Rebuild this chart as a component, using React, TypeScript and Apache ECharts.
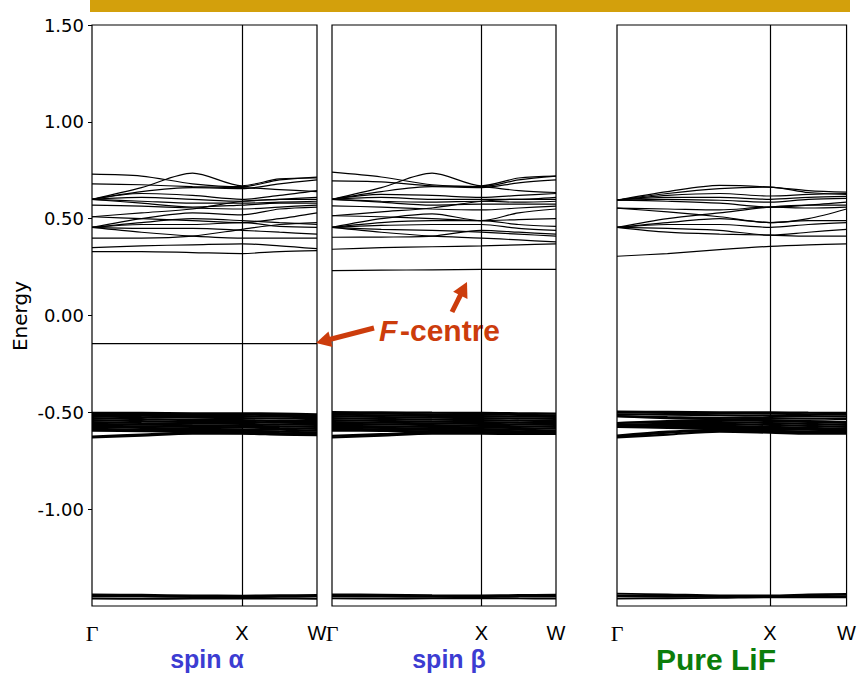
import React, { useEffect, useRef } from "react";
import * as echarts from "echarts";

// k-path sample points: Γ (0) → X (1) → W (1.5)
const K_POINTS = [0, 0.33, 0.67, 1.0, 1.25, 1.5];
const K_LABELS: Record<string, string> = { "0": "Γ", "1": "X", "1.5": "W" };
const Y_TICKS_FMT = (v: number) => v.toFixed(2);

// ---------- spin α ----------
const ALPHA_CONDUCTION = [
  [0.73, 0.72, 0.68, 0.665, 0.7, 0.715],
  [0.6, 0.66, 0.735, 0.67, 0.705, 0.71],
  [0.68, 0.675, 0.665, 0.66, 0.65, 0.64],
  [0.6, 0.64, 0.66, 0.655, 0.68, 0.7],
  [0.6, 0.63, 0.62, 0.6, 0.62, 0.645],
  [0.6, 0.61, 0.6, 0.59, 0.6, 0.6],
  [0.6, 0.59, 0.58, 0.58, 0.585, 0.59],
  [0.6, 0.58, 0.56, 0.57, 0.58, 0.58],
  [0.57, 0.565, 0.555, 0.55, 0.56, 0.57],
  [0.51, 0.53, 0.55, 0.59, 0.6, 0.61],
  [0.51, 0.5, 0.49, 0.48, 0.5, 0.53],
  [0.455, 0.5, 0.53, 0.52, 0.55, 0.56],
  [0.455, 0.48, 0.5, 0.49, 0.48, 0.47],
  [0.455, 0.47, 0.47, 0.48, 0.46, 0.455],
  [0.455, 0.45, 0.45, 0.44, 0.43, 0.42],
  [0.455, 0.43, 0.41, 0.4, 0.4, 0.4],
  [0.4, 0.4, 0.41, 0.445, 0.47, 0.48],
  [0.35, 0.36, 0.365, 0.37, 0.36, 0.345],
  [0.33, 0.33, 0.325, 0.32, 0.33, 0.335],
];
const ALPHA_DEFECT = [-0.145, -0.145, -0.145, -0.145, -0.145, -0.145];
const ALPHA_VALENCE = [
  [-0.503, -0.503, -0.505, -0.505, -0.507, -0.51],
  [-0.508, -0.51, -0.512, -0.512, -0.514, -0.516],
  [-0.515, -0.517, -0.52, -0.52, -0.522, -0.525],
  [-0.52, -0.525, -0.528, -0.53, -0.532, -0.535],
  [-0.53, -0.535, -0.54, -0.54, -0.545, -0.545],
  [-0.54, -0.545, -0.55, -0.55, -0.553, -0.555],
  [-0.55, -0.555, -0.558, -0.56, -0.563, -0.565],
  [-0.56, -0.563, -0.567, -0.57, -0.573, -0.575],
  [-0.57, -0.572, -0.575, -0.578, -0.582, -0.585],
  [-0.575, -0.58, -0.585, -0.588, -0.59, -0.595],
  [-0.585, -0.59, -0.592, -0.595, -0.6, -0.603],
  [-0.595, -0.597, -0.6, -0.602, -0.607, -0.61],
  [-0.625, -0.615, -0.605, -0.607, -0.612, -0.615],
  [-0.63, -0.62, -0.61, -0.61, -0.615, -0.618],
];
const ALPHA_CORE = [
  [-1.44, -1.442, -1.445, -1.446, -1.444, -1.443],
  [-1.446, -1.448, -1.45, -1.45, -1.449, -1.448],
  [-1.451, -1.452, -1.454, -1.454, -1.453, -1.452],
  [-1.462, -1.463, -1.462, -1.461, -1.462, -1.463],
];

// ---------- spin β ----------
const BETA_CONDUCTION = [
  [0.74, 0.715, 0.675, 0.665, 0.7, 0.72],
  [0.6, 0.66, 0.735, 0.67, 0.71, 0.72],
  [0.695, 0.69, 0.67, 0.665, 0.645, 0.635],
  [0.6, 0.64, 0.665, 0.66, 0.685, 0.7],
  [0.6, 0.625, 0.62, 0.61, 0.62, 0.63],
  [0.6, 0.61, 0.6, 0.6, 0.6, 0.61],
  [0.6, 0.59, 0.585, 0.59, 0.585, 0.59],
  [0.6, 0.585, 0.57, 0.575, 0.575, 0.575],
  [0.566, 0.56, 0.55, 0.545, 0.555, 0.565],
  [0.515, 0.535, 0.555, 0.59, 0.6, 0.6],
  [0.515, 0.51, 0.5, 0.49, 0.495, 0.5],
  [0.455, 0.5, 0.525, 0.49, 0.53, 0.55],
  [0.455, 0.48, 0.49, 0.49, 0.47, 0.46],
  [0.455, 0.465, 0.47, 0.47, 0.45, 0.44],
  [0.455, 0.445, 0.44, 0.43, 0.42, 0.41],
  [0.455, 0.43, 0.41, 0.4, 0.39, 0.38],
  [0.404, 0.405, 0.41, 0.44, 0.43, 0.42],
  [0.342, 0.35, 0.355, 0.36, 0.365, 0.37],
];
const BETA_DEFECT = [0.232, 0.234, 0.236, 0.238, 0.238, 0.238];
const BETA_VALENCE = [
  [-0.499, -0.5, -0.502, -0.503, -0.505, -0.507],
  [-0.505, -0.507, -0.51, -0.511, -0.513, -0.515],
  [-0.512, -0.515, -0.518, -0.52, -0.522, -0.524],
  [-0.52, -0.524, -0.527, -0.53, -0.532, -0.534],
  [-0.53, -0.534, -0.538, -0.54, -0.543, -0.545],
  [-0.54, -0.544, -0.548, -0.55, -0.553, -0.555],
  [-0.55, -0.553, -0.557, -0.56, -0.562, -0.565],
  [-0.56, -0.562, -0.566, -0.57, -0.572, -0.575],
  [-0.57, -0.572, -0.575, -0.578, -0.581, -0.584],
  [-0.576, -0.58, -0.584, -0.587, -0.59, -0.594],
  [-0.585, -0.588, -0.591, -0.594, -0.598, -0.602],
  [-0.594, -0.596, -0.599, -0.602, -0.605, -0.608],
  [-0.622, -0.613, -0.604, -0.606, -0.609, -0.61],
  [-0.63, -0.62, -0.61, -0.61, -0.612, -0.612],
];
const BETA_CORE = [
  [-1.44, -1.441, -1.444, -1.445, -1.443, -1.442],
  [-1.445, -1.447, -1.449, -1.45, -1.448, -1.447],
  [-1.45, -1.452, -1.453, -1.454, -1.452, -1.451],
  [-1.461, -1.462, -1.461, -1.46, -1.461, -1.462],
];

// ---------- pure LiF ----------
const LIF_CONDUCTION = [
  [0.596, 0.64, 0.672, 0.663, 0.645, 0.637],
  [0.596, 0.63, 0.655, 0.663, 0.635, 0.625],
  [0.596, 0.62, 0.63, 0.617, 0.625, 0.63],
  [0.596, 0.61, 0.61, 0.6, 0.61, 0.615],
  [0.596, 0.6, 0.595, 0.585, 0.6, 0.605],
  [0.596, 0.59, 0.58, 0.56, 0.57, 0.585],
  [0.554, 0.535, 0.51, 0.48, 0.5, 0.55],
  [0.554, 0.55, 0.545, 0.56, 0.555, 0.56],
  [0.455, 0.5, 0.53, 0.56, 0.57, 0.57],
  [0.455, 0.48, 0.5, 0.48, 0.49, 0.49],
  [0.455, 0.47, 0.47, 0.455, 0.47, 0.48],
  [0.455, 0.45, 0.44, 0.415, 0.43, 0.445],
  [0.455, 0.43, 0.42, 0.415, 0.41, 0.41],
  [0.306, 0.32, 0.34, 0.357, 0.365, 0.37],
];
const LIF_VALENCE = [
  [-0.496, -0.498, -0.5, -0.5, -0.502, -0.503],
  [-0.5, -0.503, -0.505, -0.507, -0.51, -0.512],
  [-0.51, -0.512, -0.515, -0.518, -0.52, -0.522],
  [-0.52, -0.525, -0.528, -0.53, -0.532, -0.535],
  [-0.52, -0.53, -0.535, -0.54, -0.545, -0.55],
  [-0.555, -0.545, -0.54, -0.545, -0.55, -0.555],
  [-0.555, -0.55, -0.55, -0.555, -0.56, -0.565],
  [-0.565, -0.56, -0.56, -0.565, -0.57, -0.575],
  [-0.565, -0.57, -0.57, -0.575, -0.58, -0.585],
  [-0.57, -0.575, -0.58, -0.58, -0.585, -0.59],
  [-0.575, -0.58, -0.585, -0.59, -0.59, -0.595],
  [-0.62, -0.6, -0.59, -0.595, -0.6, -0.6],
  [-0.625, -0.605, -0.595, -0.6, -0.605, -0.605],
  [-0.63, -0.615, -0.6, -0.605, -0.61, -0.61],
];
const LIF_CORE = [
  [-1.436, -1.44, -1.445, -1.445, -1.44, -1.437],
  [-1.445, -1.447, -1.45, -1.45, -1.445, -1.443],
  [-1.45, -1.452, -1.452, -1.45, -1.45, -1.45],
  [-1.462, -1.46, -1.458, -1.455, -1.455, -1.455],
];

const PANEL_TITLES = ["spin α", "spin β", "Pure LiF"];

const GRIDS = [
  { left: 92, top: 25, width: 225, height: 581 },
  { left: 332, top: 25, width: 224, height: 581 },
  { left: 617, top: 25, width: 232, height: 581 },
];

const ORANGE = "#cc3c0c";

function bandSeries(bands: number[][], idx: number, withMark: boolean, width: number) {
  return bands.map((b, j) => {
    const s: any = {
      type: "line",
      xAxisIndex: idx,
      yAxisIndex: idx,
      data: K_POINTS.map((k, i) => [k, b[i]]),
      symbol: "none",
      smooth: 0.3,
      silent: true,
      lineStyle: { color: "#000", width },
    };
    if (withMark && j === 0) {
      s.markLine = {
        silent: true,
        symbol: ["none", "none"],
        label: { show: false },
        lineStyle: { color: "#000", width: 1.2, type: "solid" },
        data: [{ xAxis: 1 }],
      };
    }
    return s;
  });
}

function arrow(tail: number[], tip: number[], color: string) {
  const dx = tip[0] - tail[0];
  const dy = tip[1] - tail[1];
  const len = Math.sqrt(dx * dx + dy * dy);
  const ux = dx / len;
  const uy = dy / len;
  const hl = 15;
  const hw = 8;
  const bx = tip[0] - ux * hl;
  const by = tip[1] - uy * hl;
  return [
    {
      type: "line",
      shape: { x1: tail[0], y1: tail[1], x2: bx + ux * 2, y2: by + uy * 2 },
      style: { stroke: color, lineWidth: 5 },
      silent: true,
    },
    {
      type: "polygon",
      shape: {
        points: [
          [tip[0], tip[1]],
          [bx - uy * hw, by + ux * hw],
          [bx + uy * hw, by - ux * hw],
        ],
      },
      style: { fill: color },
      silent: true,
    },
  ];
}

export default function App() {
  const ref = useRef<HTMLDivElement>(null);
  useEffect(() => {
    if (!ref.current) return;
    const chart = echarts.init(ref.current, null, { renderer: "svg" });

    const xAxes = GRIDS.map((_, i) => ({
      type: "value",
      gridIndex: i,
      min: 0,
      max: 1.5,
      interval: 0.5,
      axisLine: { show: false },
      axisTick: { show: false },
      splitLine: { show: false },
      axisLabel: {
        show: true,
        showMinLabel: true,
        showMaxLabel: true,
        margin: 17,
        color: "#000",
        fontSize: 20,
        lineHeight: 20,
        fontFamily: "Liberation Sans",
        formatter: (v: number) => {
          const l = K_LABELS[String(v)] || "";
          return l === "Γ" ? "{g|Γ}" : l;
        },
        rich: {
          g: { fontFamily: "Liberation Serif", fontSize: 22, lineHeight: 20, color: "#000" },
        },
      },
    }));

    const yAxes = GRIDS.map((_, i) => ({
      type: "value",
      gridIndex: i,
      min: -1.5,
      max: 1.5,
      interval: 0.5,
      axisLine: { show: false },
      splitLine: { show: false },
      axisTick: {
        show: i === 0,
        length: 4,
        lineStyle: { color: "#000", width: 1 },
      },
      axisLabel: {
        show: i === 0,
        showMinLabel: false,
        margin: 8,
        color: "#000",
        fontSize: 18,
        fontFamily: "DejaVu Sans",
        padding: [0, 0, 10, 0],
        formatter: Y_TICKS_FMT,
      },
    }));

    const series = [
      ...bandSeries(ALPHA_CONDUCTION, 0, true, 1.2),
      ...bandSeries([ALPHA_DEFECT], 0, false, 1.2),
      ...bandSeries(ALPHA_VALENCE, 0, false, 2.2),
      ...bandSeries(ALPHA_CORE, 0, false, 1.8),
      ...bandSeries(BETA_CONDUCTION, 1, true, 1.2),
      ...bandSeries([BETA_DEFECT], 1, false, 1.2),
      ...bandSeries(BETA_VALENCE, 1, false, 2.2),
      ...bandSeries(BETA_CORE, 1, false, 1.8),
      ...bandSeries(LIF_CONDUCTION, 2, true, 1.2),
      ...bandSeries(LIF_VALENCE, 2, false, 2.2),
      ...bandSeries(LIF_CORE, 2, false, 1.8),
    ];

    const titleStyle = (text: string, color: string, size: number) => ({
      text,
      fill: color,
      fontSize: size,
      lineHeight: size - 4,
      fontWeight: "bold",
      fontFamily: "Liberation Sans",
      align: "center",
      verticalAlign: "middle",
      textAlign: "center",
      textVerticalAlign: "middle",
    });

    const graphic: any[] = [
      {
        type: "rect",
        shape: { x: 90, y: 0, width: 760, height: 12 },
        style: { fill: "#d3a00c" },
        silent: true,
      },
      {
        type: "text",
        x: 20,
        y: 316,
        rotation: Math.PI / 2,
        style: {
          text: "Energy",
          fill: "#000",
          fontSize: 20,
          fontFamily: "DejaVu Sans",
          align: "center",
          verticalAlign: "middle",
          textAlign: "center",
          textVerticalAlign: "middle",
        },
      },
      { type: "text", x: 207, y: 659, style: titleStyle(PANEL_TITLES[0], "#3c3cd2", 25) },
      { type: "text", x: 449, y: 659, style: titleStyle(PANEL_TITLES[1], "#3c3cd2", 25) },
      { type: "text", x: 716, y: 659, style: titleStyle(PANEL_TITLES[2], "#0b7d0b", 30) },
      {
        type: "text",
        x: 379,
        y: 330,
        style: {
          text: "F",
          fill: ORANGE,
          fontSize: 30,
          fontWeight: "bold",
          fontStyle: "italic",
          fontFamily: "Liberation Sans",
          align: "left",
          verticalAlign: "middle",
          textAlign: "left",
          textVerticalAlign: "middle",
        },
      },
      {
        type: "text",
        x: 400,
        y: 330,
        style: {
          text: "-centre",
          fill: ORANGE,
          fontSize: 30,
          fontWeight: "bold",
          fontFamily: "Liberation Sans",
          align: "left",
          verticalAlign: "middle",
          textAlign: "left",
          textVerticalAlign: "middle",
        },
      },
      ...arrow([374, 328], [316, 343], ORANGE),
      ...arrow([452, 312], [467, 282], ORANGE),
    ];

    chart.setOption({
      animation: false,
      backgroundColor: "#fff",
      grid: GRIDS.map((g) => ({
        ...g,
        show: true,
        borderColor: "#000",
        borderWidth: 1.2,
        backgroundColor: "transparent",
        containLabel: false,
      })),
      xAxis: xAxes,
      yAxis: yAxes,
      series,
      graphic,
    });
    return () => chart.dispose();
  }, []);
  return (
    <div
      ref={ref}
      style={{ position: "fixed", left: 0, top: 0, width: 859, height: 674 }}
    />
  );
}
